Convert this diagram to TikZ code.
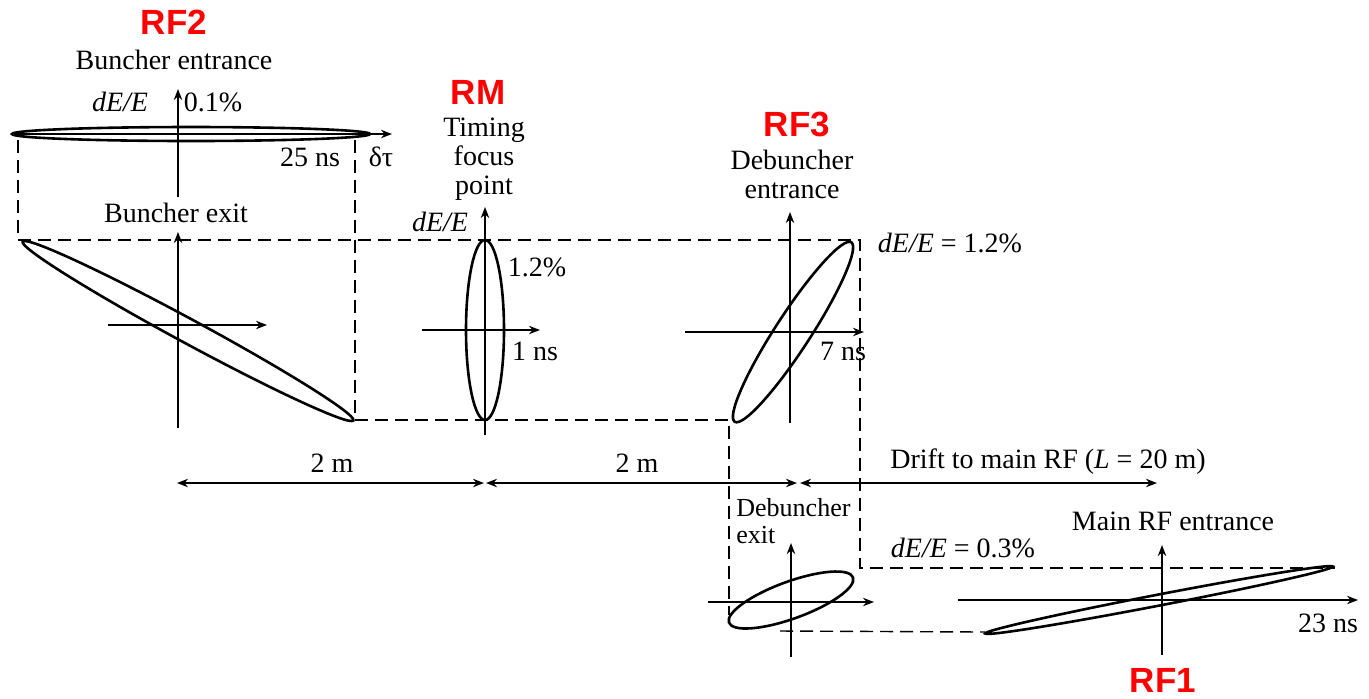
\documentclass[tikz,border=0pt]{standalone}
\usepackage{fontspec}
\setmainfont{Liberation Serif}
\setsansfont{Liberation Sans}
\usetikzlibrary{arrows.meta}
\tikzset{
  figtxt/.style={draw=none, fill=none, inner sep=0pt, font=\fontsize{14}{14.5}\selectfont},
  rflab/.style={draw=none, fill=none, inner sep=0pt, text=red, font=\sffamily\bfseries\fontsize{17.5}{20}\selectfont},
  axisline/.style={line width=0.9pt, -{Stealth[length=5.5pt,width=4.2pt]}},
  beamline/.style={line width=1.3pt},
  guideline/.style={line width=0.7pt, dash pattern=on 6.5pt off 3.5pt},
  dimline/.style={line width=0.9pt, {Stealth[length=5.5pt,width=4.2pt]}-{Stealth[length=5.5pt,width=4.2pt]}},
}

\begin{document}
\begin{tikzpicture}[x=0.5pt, y=-0.5pt]
\useasboundingbox (0,0) rectangle (1369,698);

\draw[guideline] (18,140) -- (18,240) -- (860,240) -- (860,568) -- (1335,568);
\draw[guideline] (355,140) -- (355,420) -- (729,420) -- (729,615);
\draw[guideline] (780,631) -- (985,632);

\draw[axisline] (178,197) -- (178,89);
\draw[axisline] (12,134) -- (392,134);
\draw[beamline] (191,134) ellipse [x radius=179, y radius=7];
\node[rflab] (rftwo) at (174,22) {RF2};
\node[figtxt] (bentr) at (174,60) {Buncher entrance};
\node[figtxt] (bdee) at (120,102) {\textit{dE/E}};
\node[figtxt] (bspread) at (213,102) {0.1\%};
\node[figtxt] (blen) at (310,157) {25 ns};
\node[figtxt] (btau) at (381,157) {δτ};

\draw[axisline] (178,428) -- (178,232);
\draw[axisline] (108,325) -- (267,325);
\draw[beamline, rotate around={-28.4:(188,331)}] (188,331) ellipse [x radius=188, y radius=12];
\node[figtxt] (bexit) at (176,213) {Buncher exit};

\draw[axisline] (485,435) -- (485,207);
\draw[axisline] (422,330) -- (540,330);
\draw[beamline] (485,330) ellipse [x radius=19, y radius=90];
\node[rflab] (rm) at (478,92) {RM};
\node[figtxt, align=center] (focus) at (484,159) {Timing\\focus\\point};
\node[figtxt] (fdee) at (440,222) {\textit{dE/E}};
\node[figtxt] (fspread) at (537,267) {1.2\%};
\node[figtxt] (flen) at (535,351) {1 ns};

\draw[axisline] (790,423) -- (790,212);
\draw[axisline] (685,332) -- (864,332);
\draw[beamline, rotate around={57:(793,332)}] (793,332) ellipse [x radius=107, y radius=17.5];
\node[rflab] (rfthree) at (797,124) {RF3};
\node[figtxt, align=center] (dentr) at (792,174) {Debuncher\\entrance};
\node[figtxt] (dlen) at (843,351) {7 ns};
\node[figtxt] (dspread) at (950,243) {\textit{dE/E} = 1.2\%};

\draw[dimline] (177,483) -- (484,483);
\draw[dimline] (486,483) -- (797,483);
\draw[dimline] (800,483) -- (1157,483);
\node[figtxt] (gapone) at (332,463) {2 m};
\node[figtxt] (gaptwo) at (637,463) {2 m};
\node[figtxt] (drift) at (1048,462) {Drift to main RF (\textit{L} = 20 m)};

\draw[axisline] (791,657) -- (791,543);
\draw[axisline] (708,602) -- (874,602);
\draw[beamline, rotate around={20:(791,600)}] (791,600) ellipse [x radius=66, y radius=18.5];
\node[figtxt, align=left, anchor=west, font=\fontsize{13}{13.5}\selectfont] (dexit) at (736,521) {Debuncher\\exit};

\draw[axisline] (1162,655) -- (1162,545);
\draw[axisline] (958,600) -- (1358,600);
\draw[beamline, rotate around={10.9:(1159,600)}] (1159,600) ellipse [x radius=177, y radius=5.5];
\node[figtxt] (mentr) at (1173,521) {Main RF entrance};
\node[figtxt] (mspread) at (963,548) {\textit{dE/E} = 0.3\%};
\node[figtxt] (mlen) at (1328,623) {23 ns};
\node[rflab] (rfone) at (1163,680) {RF1};
\end{tikzpicture}
\end{document}
